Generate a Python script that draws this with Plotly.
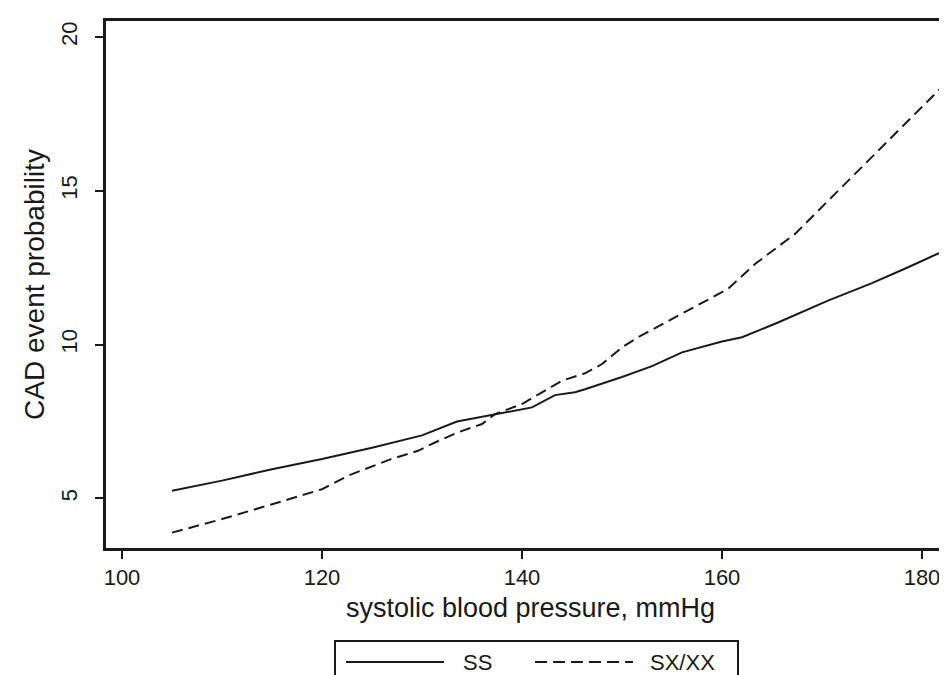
import plotly.graph_objects as go

# ---- data ----
ss_x = [105, 110, 115, 120, 125, 130, 133.5, 136.5, 140, 141, 143.3, 145.3, 146.3,
        150, 153, 156, 160, 162, 165.6, 170.6, 175, 178.5, 183]
ss_y = [5.25, 5.58, 5.95, 6.28, 6.65, 7.05, 7.5, 7.69, 7.9, 7.96, 8.36, 8.45, 8.55,
        8.95, 9.3, 9.75, 10.1, 10.24, 10.72, 11.43, 12.0, 12.5, 13.17]

sx_x = [105, 110, 115, 120, 122.6, 126.9, 129.6, 131.3, 133.6, 136, 137.3, 140, 142,
        144, 146.3, 148, 150, 151.6, 155.6, 160.6, 163.3, 167.3, 171.3, 176, 179.3, 183]
sx_y = [3.89, 4.33, 4.81, 5.30, 5.74, 6.28, 6.55, 6.82, 7.15, 7.42, 7.74, 8.07, 8.45,
        8.83, 9.07, 9.37, 9.91, 10.24, 10.94, 11.81, 12.62, 13.6, 14.9, 16.41, 17.5, 18.7]

series_names = ["SS", "SX/XX"]
x_ticks = [100, 120, 140, 160, 180]
y_ticks = [5, 10, 15, 20]
x_title = "systolic blood pressure, mmHg"
y_title = "CAD event probability"

# ---- layout geometry ----
W, H = 947, 675
L, R, T, B = 98, 0, 13, 135
PW, PH = W - L - R, H - T - B
FONT = "Liberation Sans, Arial, sans-serif"
INK = "#1a1a1a"


def px(xp):
    return (xp - L) / PW


def py(yp):
    return (H - B - yp) / PH


fig = go.Figure()
fig.add_trace(go.Scatter(x=ss_x, y=ss_y, mode="lines", name=series_names[0],
                         line=dict(color=INK, width=2, dash="solid")))
fig.add_trace(go.Scatter(x=sx_x, y=sx_y, mode="lines", name=series_names[1],
                         line=dict(color=INK, width=2, dash="11px,6px")))

fig.update_layout(
    width=W, height=H,
    margin=dict(l=L, r=R, t=T, b=B),
    paper_bgcolor="white", plot_bgcolor="white",
    showlegend=False,
    font=dict(family=FONT, color=INK),
    xaxis=dict(
        range=[98.4, 183.3], tickvals=x_ticks, ticktext=[str(v) for v in x_ticks],
        showgrid=False, zeroline=False,
        showline=True, linecolor=INK, linewidth=2.5, mirror=True,
        ticks="outside", ticklen=8, tickwidth=2, tickcolor=INK,
        tickfont=dict(size=22, family=FONT, color=INK),
        title=dict(text=x_title, font=dict(size=27, family=FONT, color=INK), standoff=9),
    ),
    yaxis=dict(
        range=[3.39, 20.52], tickvals=y_ticks, ticktext=[str(v) for v in y_ticks],
        showgrid=False, zeroline=False,
        showline=True, linecolor=INK, linewidth=2.5, mirror=False,
        ticks="outside", ticklen=8, tickwidth=2, tickcolor=INK,
        tickangle=-90, ticklabelstandoff=9,
        tickfont=dict(size=22, family=FONT, color=INK),
        title=dict(text=y_title, font=dict(size=28, family=FONT, color=INK), standoff=5),
    ),
)

# ---- legend box drawn below the axis title ----
fig.add_shape(type="rect", xref="paper", yref="paper",
              x0=px(327), x1=px(730), y0=py(700), y1=py(633),
              line=dict(color=INK, width=2), fillcolor="white", layer="above")
leg_y = py(654)
fig.add_shape(type="line", xref="paper", yref="paper",
              x0=px(338), x1=px(436), y0=leg_y, y1=leg_y,
              line=dict(color=INK, width=2, dash="solid"))
fig.add_shape(type="line", xref="paper", yref="paper",
              x0=px(527), x1=px(625), y0=leg_y, y1=leg_y,
              line=dict(color=INK, width=2, dash="12px,6px"))
fig.add_annotation(xref="paper", yref="paper", x=px(453), y=leg_y,
                   text=series_names[0], showarrow=False, xanchor="left", yanchor="middle",
                   font=dict(size=22, family=FONT, color=INK))
fig.add_annotation(xref="paper", yref="paper", x=px(640), y=leg_y,
                   text=series_names[1], showarrow=False, xanchor="left", yanchor="middle",
                   font=dict(size=22, family=FONT, color=INK))

fig.write_html("out.html")
